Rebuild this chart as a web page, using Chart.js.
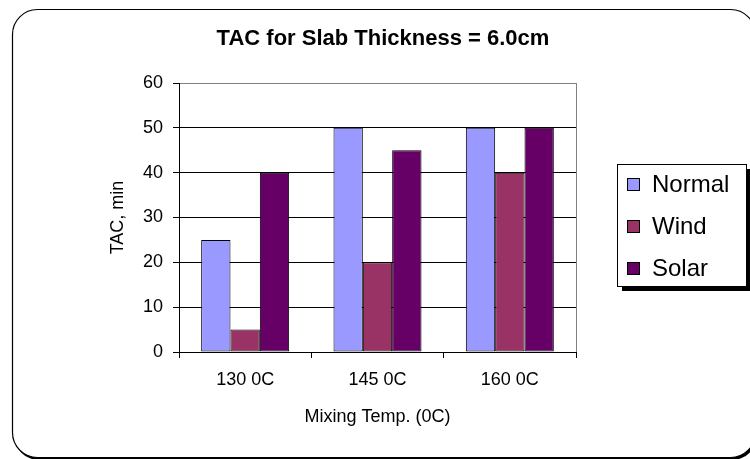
<!DOCTYPE html>
<html>
<head>
<meta charset="utf-8">
<script src="https://cdn.jsdelivr.net/npm/chart.js@4.4.0/dist/chart.umd.min.js"></script>
<style>
  html, body { margin: 0; padding: 0; background: #fff; }
  #wrap { width: 750px; height: 459px; }
</style>
</head>
<body>
<div id="wrap"><canvas id="grafico"></canvas></div>
<script>
// dados
const categorias = ['130 0C', '145 0C', '160 0C'];
const normal = [25, 50, 50];
const wind = [5, 20, 40];
const solar = [40, 45, 50];
const nomesSeries = ['Normal', 'Wind', 'Solar'];
const coresSeries = ['#9999FF', '#993366', '#660066'];
const yMin = 0, yMax = 60, yPasso = 10;

Chart.defaults.font.family = '"Liberation Sans", Arial, sans-serif';
Chart.defaults.font.size = 18;
Chart.defaults.color = '#000';

// moldura arredondada com sombra
const moldura = {
    id: 'moldura',
    beforeDraw(chart) {
        const c = chart.ctx;
        c.save();
        c.fillStyle = '#fff';
        c.fillRect(0, 0, chart.width, chart.height);
        c.fillStyle = '#000';
        c.beginPath();
        c.roundRect(14, 11, 743, 449, 25);
        c.fill();
        c.fillStyle = '#fff';
        c.strokeStyle = '#000';
        c.lineWidth = 1.2;
        c.beginPath();
        c.roundRect(12.5, 9.5, 743, 448, 25);
        c.fill();
        c.stroke();
        c.restore();
    }
};

// borda cinza da área de plotagem (direita)
const bordaPlot = {
    id: 'bordaPlot',
    beforeDatasetsDraw(chart) {
        const { ctx: c, chartArea: a } = chart;
        c.save();
        c.strokeStyle = '#808080';
        c.lineWidth = 1;
        c.beginPath();
        c.moveTo(a.right + 0.5, a.top);
        c.lineTo(a.right + 0.5, a.bottom);
        c.stroke();
        c.restore();
    }
};

// legenda no estilo Excel, com caixa e sombra
const legendaCaixa = {
    id: 'legendaCaixa',
    afterDraw(chart) {
        const c = chart.ctx;
        const x = 617, y = 164, w = 129, h = 122;
        c.save();
        c.fillStyle = '#000';
        c.fillRect(x + 5, y + 5, w, h);
        c.fillStyle = '#fff';
        c.fillRect(x, y, w, h);
        c.strokeStyle = '#000';
        c.lineWidth = 1;
        c.strokeRect(x + 0.5, y + 0.5, w, h);
        c.font = '24px "Liberation Sans", Arial, sans-serif';
        c.textBaseline = 'middle';
        c.textAlign = 'left';
        chart.data.datasets.forEach((ds, i) => {
            const cy = 184 + i * 42;
            c.fillStyle = ds.backgroundColor;
            c.fillRect(627, cy - 6, 13, 13);
            c.strokeStyle = '#000';
            c.strokeRect(627.5, cy - 5.5, 12, 12);
            c.fillStyle = '#000';
            c.fillText(ds.label, 652, cy + 1);
        });
        c.restore();
    }
};

const serieDados = [normal, wind, solar];

new Chart(document.getElementById('grafico'), {
    type: 'bar',
    data: {
        labels: categorias,
        datasets: serieDados.map((d, i) => ({
            label: nomesSeries[i],
            data: d,
            backgroundColor: coresSeries[i],
            borderColor: '#000',
            borderWidth: 1,
            borderSkipped: false,
            categoryPercentage: 0.665,
            barPercentage: 1
        }))
    },
    options: {
        responsive: true,
        maintainAspectRatio: false,
        animation: false,
        devicePixelRatio: 1,
        layout: { padding: { left: 16, right: 0, top: 0, bottom: 0 } },
        plugins: {
            legend: { display: false },
            tooltip: { enabled: false },
            title: {
                display: true,
                text: 'TAC for Slab Thickness = 6.0cm',
                font: { size: 22, weight: 'bold' },
                color: '#000',
                padding: { top: 26, bottom: 30.6 }
            }
        },
        scales: {
            x: {
                offset: true,
                grid: { display: true, drawOnChartArea: false, color: '#000', tickLength: 6, offset: true },
                border: { color: '#000', width: 1 },
                ticks: { padding: 11, color: '#000', font: { size: 18 } },
                title: { display: true, text: 'Mixing Temp. (0C)', color: '#000', font: { size: 18 }, padding: { top: 0, bottom: 31 } },
                afterFit(s) { s.height = 107; }
            },
            y: {
                min: yMin,
                max: yMax,
                ticks: { stepSize: yPasso, padding: 10, color: '#000', font: { size: 18 } },
                grid: {
                    color: ctx => (ctx.tick && ctx.tick.value === yMax ? '#808080' : '#000'),
                    tickColor: '#000',
                    tickLength: 6,
                    lineWidth: 1
                },
                border: { color: '#000', width: 1 },
                title: { display: true, text: 'TAC, min', color: '#000', font: { size: 18 }, padding: { top: 91, bottom: 0 } },
                afterFit(s) { s.width = 163; }
            },
            espaco: {
                type: 'linear',
                position: 'right',
                display: true,
                grid: { display: false, drawTicks: false },
                border: { display: false },
                ticks: { display: false },
                afterFit(s) { s.width = 174; }
            }
        }
    },
    plugins: [moldura, bordaPlot, legendaCaixa]
});
</script>
</body>
</html>
